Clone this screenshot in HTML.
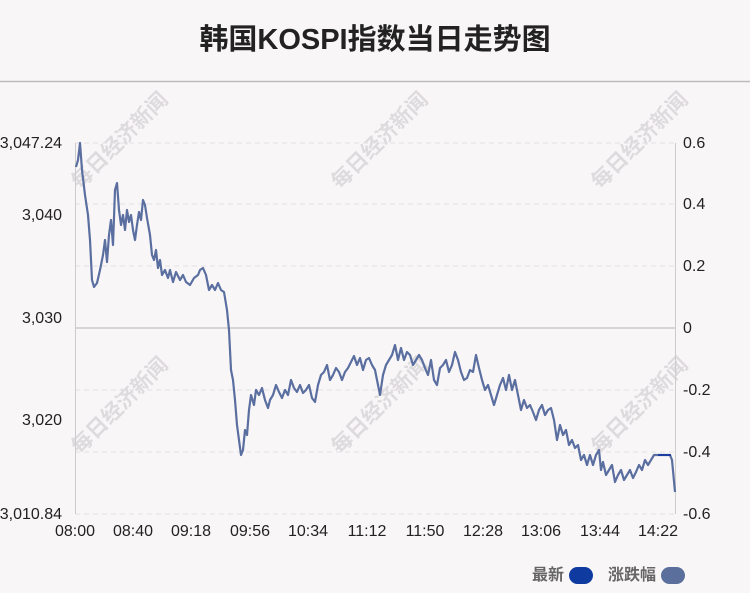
<!DOCTYPE html><html><head><meta charset="utf-8"><style>
body{margin:0;background:#f9f6f8;}
svg{display:block;font-family:"Liberation Sans","Noto Sans CJK SC",sans-serif;}
</style></head><body>
<svg width="750" height="593" viewBox="0 0 750 593">
<rect width="750" height="593" fill="#f9f6f8"/>
<text x="375" y="49" text-anchor="middle" font-size="29" font-weight="bold" fill="#222">韩国KOSPI指数当日走势图</text>
<line x1="0" y1="81.5" x2="750" y2="81.5" stroke="#bbb" stroke-width="1.5"/>
<g fill="#d8d5d8" font-size="21" font-weight="bold" opacity="0.8">
<text transform="translate(80,190) rotate(-45)">每日经济新闻</text>
<text transform="translate(340,190) rotate(-45)">每日经济新闻</text>
<text transform="translate(600,190) rotate(-45)">每日经济新闻</text>
<text transform="translate(80,455) rotate(-45)">每日经济新闻</text>
<text transform="translate(340,455) rotate(-45)">每日经济新闻</text>
<text transform="translate(600,455) rotate(-45)">每日经济新闻</text>
</g>
<g stroke="#e3e0e3" stroke-dasharray="5,4" stroke-width="1">
<line x1="75" y1="143" x2="675" y2="143"/><line x1="75" y1="204" x2="675" y2="204"/>
<line x1="75" y1="266" x2="675" y2="266"/><line x1="75" y1="390" x2="675" y2="390"/>
<line x1="75" y1="452" x2="675" y2="452"/><line x1="75" y1="514" x2="675" y2="514"/>
</g>
<line x1="75" y1="328" x2="675" y2="328" stroke="#ccc" stroke-width="1.5"/>
<line x1="75.5" y1="143" x2="75.5" y2="514" stroke="#ccc"/>
<line x1="675.5" y1="143" x2="675.5" y2="514" stroke="#ccc"/>
<g font-size="16" fill="#222" text-anchor="end">
<text x="62" y="148">3,047.24</text><text x="62" y="220">3,040</text>
<text x="62" y="323">3,030</text><text x="62" y="425">3,020</text><text x="62" y="519">3,010.84</text>
</g>
<g font-size="16" fill="#222">
<text x="683" y="148">0.6</text><text x="683" y="209">0.4</text><text x="683" y="271">0.2</text>
<text x="683" y="333">0</text><text x="683" y="395">-0.2</text><text x="683" y="457">-0.4</text><text x="683" y="519">-0.6</text>
</g>
<g font-size="16" fill="#222" text-anchor="middle">
<text x="75" y="536">08:00</text><text x="133" y="536">08:40</text><text x="191" y="536">09:18</text>
<text x="250" y="536">09:56</text><text x="308" y="536">10:34</text><text x="367" y="536">11:12</text>
<text x="425" y="536">11:50</text><text x="483" y="536">12:28</text><text x="541" y="536">13:06</text>
<text x="600" y="536">13:44</text><text x="658" y="536">14:22</text>
</g>
<polyline fill="none" stroke="#5a6fa0" stroke-width="2.2" stroke-linejoin="round" points="76,167 78,160 80,143 82,170 85,195 88,215 90,240 92,280 94,287 97,283 100,270 103,255 105,240 107,262 109,235 111,220 113,245 115,190 117,183 119,210 121,225 123,215 125,230 127,210 129,222 131,215 133,230 135,240 137,225 139,212 141,220 143,200 145,205 147,218 150,235 152,255 154,260 156,250 158,268 160,260 162,275 165,270 168,278 170,270 173,282 176,272 180,280 183,275 186,282 190,285 194,278 198,275 200,270 203,268 206,275 209,290 212,285 215,290 218,283 221,290 224,292 227,310 229,330 231,370 233,380 235,400 237,425 239,440 241,455 243,450 245,430 247,435 249,410 251,395 254,405 256,390 259,395 262,388 265,400 268,408 270,400 273,395 276,385 279,392 282,398 285,390 288,395 291,380 294,388 297,392 300,385 303,393 306,390 309,385 312,398 315,402 318,385 321,375 324,372 327,365 330,380 333,375 336,368 339,372 342,380 345,372 348,368 351,362 354,356 357,365 360,358 363,370 366,360 369,358 372,365 375,370 378,385 380,395 383,375 386,365 389,360 392,355 395,345 398,360 401,348 404,360 407,352 410,355 413,365 416,360 419,355 422,360 425,368 428,375 431,360 434,380 437,385 440,368 443,365 446,360 449,372 452,365 455,352 458,360 461,372 464,380 467,378 470,370 473,372 476,355 479,368 482,380 485,390 488,385 491,395 494,405 497,395 500,385 503,378 506,390 509,375 512,390 515,380 518,395 521,410 524,400 527,408 530,405 533,412 536,420 539,410 542,405 545,415 548,410 551,408 554,420 557,440 560,425 563,435 566,430 569,445 572,440 575,448 578,445 581,460 584,455 587,465 590,455 593,465 596,455 599,450 601,470 603,462 606,475 609,470 612,465 615,482 618,475 621,470 624,480 627,475 630,470 633,478 636,472 639,465 642,470 645,460 648,465 651,460 654,455 657,455 670,455 672,460 675,492"/>
<line x1="658" y1="455" x2="671" y2="455" stroke="#1a3fa0" stroke-width="2"/>
<g font-size="16" fill="#666" font-weight="bold">
<text x="532" y="580">最新</text><text x="608" y="580">涨跌幅</text>
</g>
<rect x="569" y="567" width="24" height="17" rx="8.5" fill="#0f3aa0"/>
<rect x="661" y="567" width="24" height="17" rx="8.5" fill="#5a6f9c"/>
</svg>
</body></html>
